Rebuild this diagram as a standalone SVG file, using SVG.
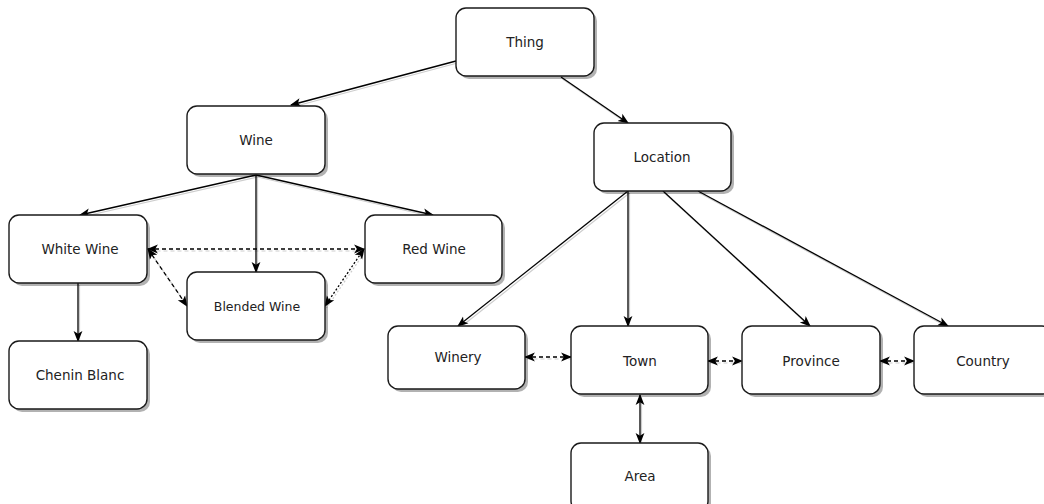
<svg xmlns="http://www.w3.org/2000/svg" width="1044" height="504" viewBox="0 0 1044 504">
<style>
.box{fill:#fff;stroke:#1a1a1a;stroke-width:1.4}
.sh{fill:#000;opacity:0.3}
.t{font-family:"DejaVu Sans",Verdana,sans-serif;font-size:13.5px;fill:#222;text-anchor:middle;dominant-baseline:central}
.e{stroke:#000;stroke-width:1.3;fill:none}
.es{stroke:#000;stroke-width:1.2;fill:none;opacity:0.2}
.d{stroke-dasharray:4 3}
.dt{stroke-dasharray:2 2}
</style>
<defs>
<marker id="a" viewBox="0 0 10 10" refX="9" refY="5" markerWidth="11" markerHeight="11" markerUnits="userSpaceOnUse" orient="auto-start-reverse">
<path d="M0,1 L10,5 L0,9 L2.5,5 Z" fill="#000"/>
</marker>
</defs>
<g id="connectors">
<g transform="translate(1.5,2)">
<line class="es" x1="456" y1="61" x2="291" y2="105"/>
<line class="es" x1="561" y1="77" x2="628" y2="123"/>
<line class="es" x1="256" y1="175" x2="80" y2="215"/>
<line class="es" x1="256" y1="175" x2="256" y2="272"/>
<line class="es" x1="256" y1="175" x2="433" y2="215"/>
<line class="es" x1="78" y1="283" x2="78" y2="341"/>
<line class="es" x1="628" y1="191" x2="458" y2="326"/>
<line class="es" x1="628" y1="191" x2="628" y2="326"/>
<line class="es" x1="663" y1="191" x2="810" y2="326"/>
<line class="es" x1="698" y1="191" x2="948" y2="326"/>
<line class="es d" x1="148" y1="249" x2="364" y2="249"/>
<line class="es d" x1="148" y1="249" x2="187" y2="306"/>
<line class="es dt" x1="364" y1="249" x2="325" y2="306"/>
<line class="es d" x1="525" y1="357" x2="571" y2="357"/>
<line class="es d" x1="708" y1="361" x2="742" y2="361"/>
<line class="es d" x1="880" y1="361" x2="914" y2="361"/>
<line class="es" x1="640" y1="395" x2="640" y2="443"/>
</g>
<line class="e" x1="456" y1="61" x2="291" y2="105" marker-end="url(#a)"/>
<line class="e" x1="561" y1="77" x2="628" y2="123" marker-end="url(#a)"/>
<line class="e" x1="256" y1="175" x2="80" y2="215" marker-end="url(#a)"/>
<line class="e" x1="256" y1="175" x2="256" y2="272" marker-end="url(#a)"/>
<line class="e" x1="256" y1="175" x2="433" y2="215" marker-end="url(#a)"/>
<line class="e" x1="78" y1="283" x2="78" y2="341" marker-end="url(#a)"/>
<line class="e" x1="628" y1="191" x2="458" y2="326" marker-end="url(#a)"/>
<line class="e" x1="628" y1="191" x2="628" y2="326" marker-end="url(#a)"/>
<line class="e" x1="663" y1="191" x2="810" y2="326" marker-end="url(#a)"/>
<line class="e" x1="698" y1="191" x2="948" y2="326" marker-end="url(#a)"/>
<line class="e d" x1="148" y1="249" x2="364" y2="249" marker-start="url(#a)" marker-end="url(#a)"/>
<line class="e d" x1="148" y1="249" x2="187" y2="306" marker-start="url(#a)" marker-end="url(#a)"/>
<line class="e dt" x1="364" y1="249" x2="325" y2="306" marker-start="url(#a)" marker-end="url(#a)"/>
<line class="e d" x1="525" y1="357" x2="571" y2="357" marker-start="url(#a)" marker-end="url(#a)"/>
<line class="e d" x1="708" y1="361" x2="742" y2="361" marker-start="url(#a)" marker-end="url(#a)"/>
<line class="e d" x1="880" y1="361" x2="914" y2="361" marker-start="url(#a)" marker-end="url(#a)"/>
<line class="e" x1="640" y1="395" x2="640" y2="443" marker-start="url(#a)" marker-end="url(#a)"/>
</g>
<g id="thing"><rect class="sh" x="459" y="11" width="138" height="68" rx="10"/><rect class="box" x="456" y="8" width="138" height="68" rx="10"/><text class="t" x="525" y="42">Thing</text></g>
<g id="wine"><rect class="sh" x="190" y="109" width="138" height="68" rx="10"/><rect class="box" x="187" y="106" width="138" height="68" rx="10"/><text class="t" x="256" y="140">Wine</text></g>
<g id="location"><rect class="sh" x="597" y="126" width="137" height="68" rx="10"/><rect class="box" x="594" y="123" width="137" height="68" rx="10"/><text class="t" x="662" y="157">Location</text></g>
<g id="white-wine"><rect class="sh" x="12" y="218" width="138" height="68" rx="10"/><rect class="box" x="9" y="215" width="138" height="68" rx="10"/><text class="t" x="80" y="249">White Wine</text></g>
<g id="red-wine"><rect class="sh" x="368" y="218" width="137" height="68" rx="10"/><rect class="box" x="365" y="215" width="137" height="68" rx="10"/><text class="t" x="434" y="249">Red Wine</text></g>
<g id="blended-wine"><rect class="sh" x="190" y="275" width="138" height="68" rx="10"/><rect class="box" x="187" y="272" width="138" height="68" rx="10"/><text class="t" x="257" y="306" style="font-size:12.5px">Blended Wine</text></g>
<g id="chenin-blanc"><rect class="sh" x="12" y="344" width="138" height="68" rx="10"/><rect class="box" x="9" y="341" width="138" height="68" rx="10"/><text class="t" x="80" y="375">Chenin Blanc</text></g>
<g id="winery"><rect class="sh" x="391" y="329" width="137" height="63" rx="10"/><rect class="box" x="388" y="326" width="137" height="63" rx="10"/><text class="t" x="458" y="357">Winery</text></g>
<g id="town"><rect class="sh" x="574" y="329" width="137" height="68" rx="10"/><rect class="box" x="571" y="326" width="137" height="68" rx="10"/><text class="t" x="640" y="361">Town</text></g>
<g id="province"><rect class="sh" x="745" y="329" width="138" height="68" rx="10"/><rect class="box" x="742" y="326" width="138" height="68" rx="10"/><text class="t" x="811" y="361">Province</text></g>
<g id="country"><rect class="sh" x="917" y="329" width="138" height="68" rx="10"/><rect class="box" x="914" y="326" width="138" height="68" rx="10"/><text class="t" x="983" y="361">Country</text></g>
<g id="area"><rect class="sh" x="574" y="446" width="137" height="68" rx="10"/><rect class="box" x="571" y="443" width="137" height="68" rx="10"/><text class="t" x="640" y="476">Area</text></g>
</svg>
